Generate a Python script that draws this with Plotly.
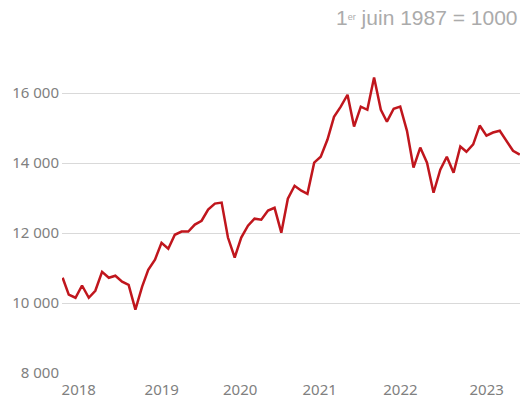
import pandas as pd
import plotly.graph_objects as go

values = [10720, 10240, 10150, 10500, 10150, 10350, 10890, 10720, 10780, 10610,
          10520, 9810, 10470, 10950, 11240, 11720, 11550, 11950, 12040, 12040,
          12240, 12350, 12670, 12840, 12870, 11870, 11300, 11870, 12210, 12410,
          12380, 12640, 12720, 12010, 12980, 13350, 13210, 13120, 14010, 14180,
          14670, 15320, 15610, 15950, 15040, 15610, 15520, 16440, 15520, 15180,
          15550, 15610, 14920, 13870, 14440, 14010, 13150, 13810, 14180, 13720,
          14470, 14320, 14530, 15070, 14780, 14870, 14920, 14610, 14350, 14240]
dates = pd.date_range("2018-01-31", periods=len(values), freq="ME")

year_labels = ["2018", "2019", "2020", "2021", "2022", "2023"]
year_tick_dates = ["2018-04-15", "2019-05-01", "2020-04-25", "2021-04-25",
                   "2022-05-01", "2023-06-01"]
y_ticks = [8000, 10000, 12000, 14000, 16000]

fig = go.Figure()
fig.add_trace(go.Scatter(x=dates, y=values, mode="lines",
                         line=dict(color="#c0161d", width=2.5), hoverinfo="skip"))

fig.update_layout(
    width=520, height=401,
    margin=dict(l=62, r=0, t=58, b=28),
    plot_bgcolor="white", paper_bgcolor="white",
    showlegend=False,
    separators=", ",
    xaxis=dict(range=[dates[0] - pd.Timedelta(days=3), dates[-1] + pd.Timedelta(days=1)],
               tickvals=year_tick_dates, ticktext=year_labels,
               showgrid=False, zeroline=False, showline=False, ticks="",
               ticklabelstandoff=6,
               tickfont=dict(family="Noto Sans", size=15, color="#808080")),
    yaxis=dict(range=[8000, 17000], tickvals=y_ticks, tickformat=",d",
               showgrid=True, gridcolor="#d9d9d9", gridwidth=1, zeroline=False,
               showline=False, ticks="", ticklabelstandoff=2,
               tickfont=dict(family="Noto Sans", size=15, color="#808080")),
    annotations=[dict(text="1<span style='font-size:13px'><sup>er</sup></span> juin 1987 = 1000",
                      xref="paper", yref="paper",
                      x=1.0, y=1.0, xanchor="right", yanchor="bottom", yshift=27,
                      showarrow=False,
                      font=dict(family="Liberation Sans", size=21, color="#ababab"))],
)

fig.write_html("out.html", config={"displayModeBar": False},
               post_script="document.body.style.margin='0';")
